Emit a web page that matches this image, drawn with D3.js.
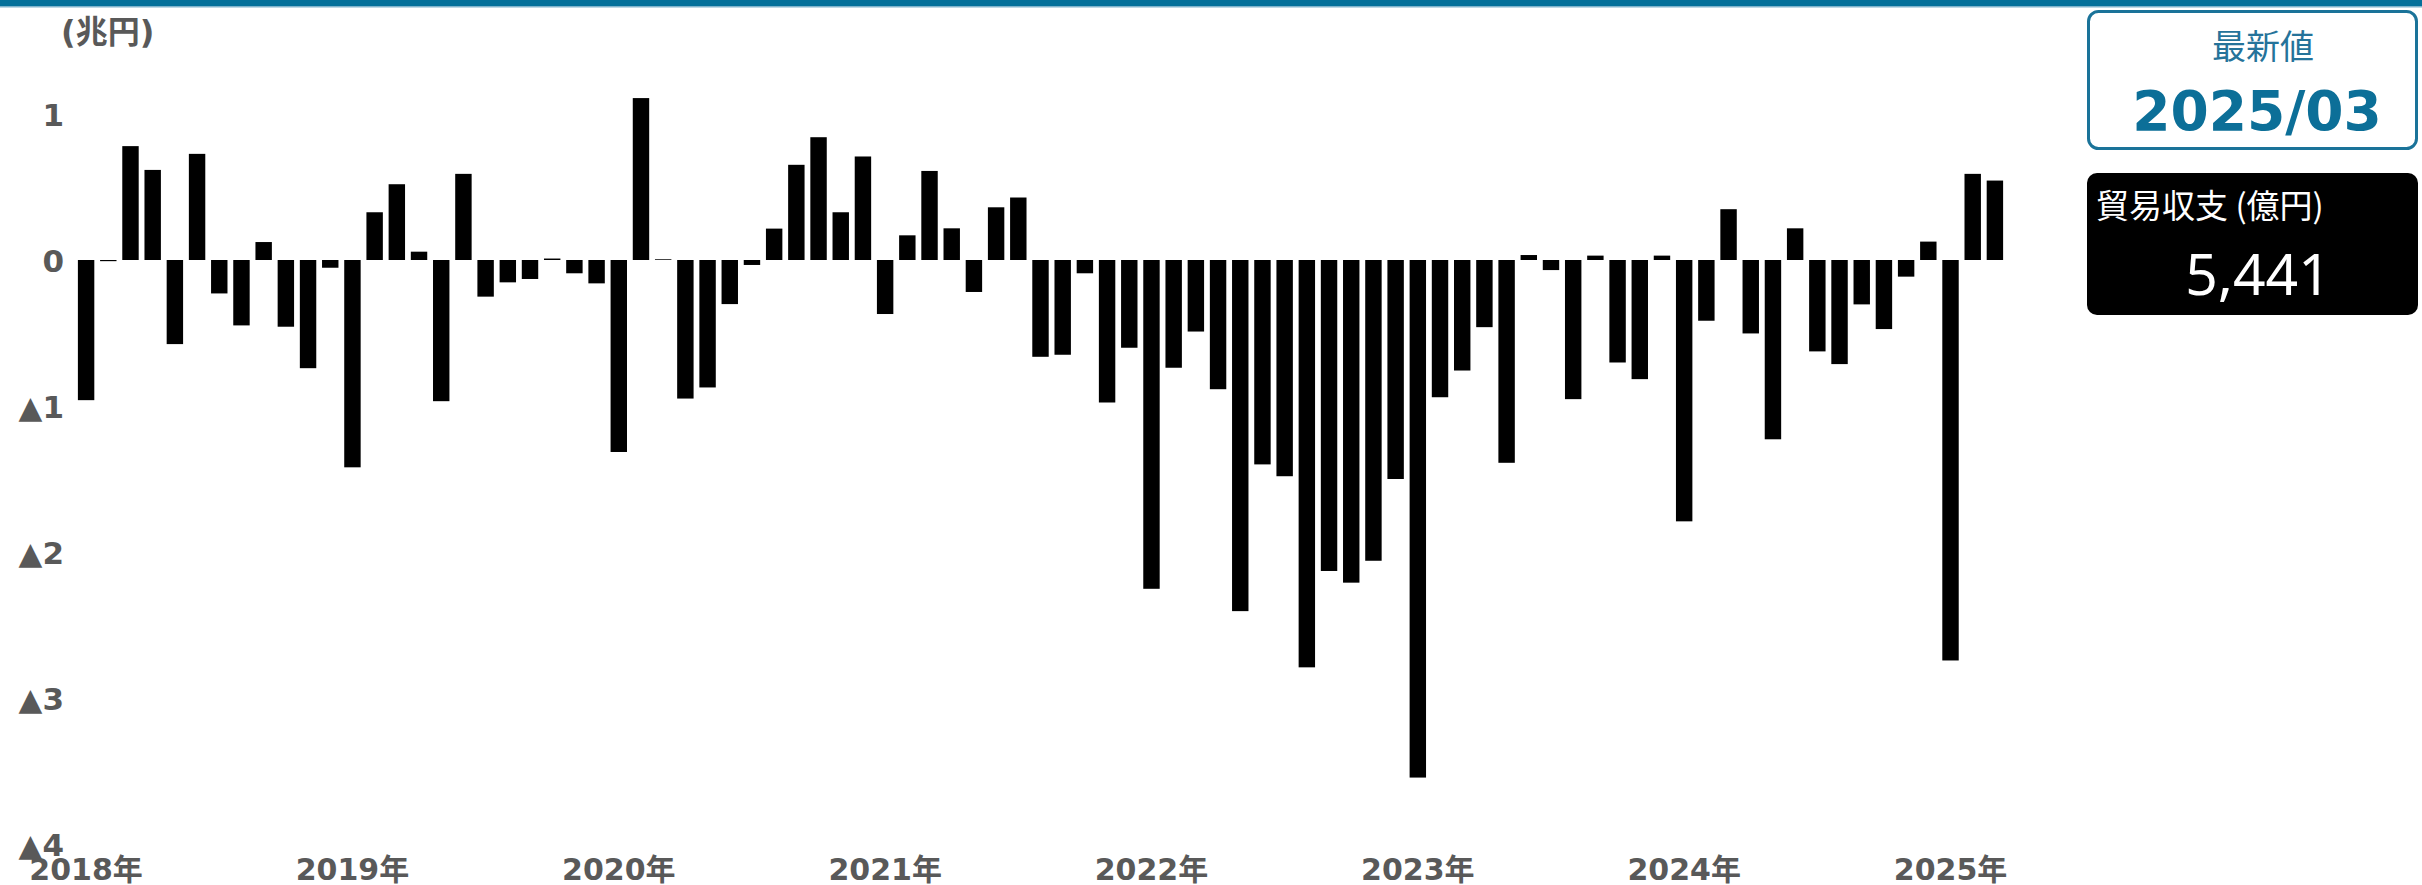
<!DOCTYPE html>
<html>
<head>
<meta charset="utf-8">
<script src="https://cdn.jsdelivr.net/npm/d3@7"></script>
<style>
  html, body { margin: 0; padding: 0; background: #fff; }
  svg { display: block; }
</style>
</head>
<body>
<svg id="chart" width="2422" height="885"></svg>
<script>
// ---- data (trillion yen, monthly trade balance) ----
const years = [2018, 2019, 2020, 2021, 2022, 2023, 2024, 2025];
const yearLabels = ["2018年", "2019年", "2020年", "2021年", "2022年", "2023年", "2024年", "2025年"];
const values2018 = [-0.96, -0.008, 0.78, 0.617, -0.576, 0.727, -0.229, -0.448, 0.123, -0.457, -0.741, -0.053];
const values2019 = [-1.42, 0.327, 0.519, 0.057, -0.967, 0.59, -0.251, -0.153, -0.13, 0.01, -0.091, -0.16];
const values2020 = [-1.315, 1.109, 0.005, -0.949, -0.873, -0.302, -0.034, 0.215, 0.652, 0.841, 0.327, 0.709];
const values2021 = [-0.37, 0.169, 0.61, 0.217, -0.219, 0.361, 0.428, -0.663, -0.649, -0.091, -0.976, -0.601];
const values2022 = [-2.252, -0.738, -0.49, -0.885, -2.405, -1.40, -1.481, -2.79, -2.13, -2.21, -2.06, -1.50];
const values2023 = [-3.545, -0.94, -0.757, -0.46, -1.389, 0.034, -0.069, -0.953, 0.03, -0.702, -0.816, 0.03];
const values2024 = [-1.79, -0.416, 0.348, -0.503, -1.228, 0.217, -0.626, -0.713, -0.304, -0.473, -0.114, 0.126];
const values2025 = [-2.743, 0.59, 0.5441];
const yTicks = [1, 0, -1, -2, -3, -4];
const unitLabel = "(兆円)";
const latestLabel = "最新値";
const latestPeriod = "2025/03";
const latestName = "貿易収支 (億円)";
const latestValue = 5441;

const seriesByYear = [values2018, values2019, values2020, values2021, values2022, values2023, values2024, values2025];
const data = [];
seriesByYear.forEach((arr, yi) => {
  arr.forEach((v, mi) => {
    data.push({ key: years[yi] + "-" + String(mi + 1).padStart(2, "0"), year: years[yi], month: mi + 1, value: v });
  });
});

// ---- drawing ----
const svg = d3.select("#chart");
const W = 2422, H = 885;
const axisColor = "#595959";
const blue = "#0c6f98";

// top band
svg.append("rect").attr("x", 0).attr("y", 0).attr("width", W).attr("height", 6).attr("fill", "#04709a");
svg.append("rect").attr("x", 0).attr("y", 6).attr("width", W).attr("height", 1.5).attr("fill", "#7fb3cc");

const x = d3.scaleBand()
  .domain(data.map(d => d.key))
  .range([75, 2006])
  .paddingInner(0.26)
  .paddingOuter(0.13);

const y = d3.scaleLinear().domain([-4, 1]).range([844, 114]);

// bars
svg.append("g").selectAll("rect")
  .data(data)
  .join("rect")
  .attr("x", d => x(d.key))
  .attr("width", x.bandwidth())
  .attr("y", d => y(Math.max(0, d.value)))
  .attr("height", d => Math.abs(y(d.value) - y(0)))
  .attr("fill", "#000");

// y axis
const yAxis = d3.axisLeft(y)
  .tickValues(yTicks)
  .tickSize(0)
  .tickPadding(0)
  .tickFormat(d => d < 0 ? "▲" + (-d) : String(d));
const gy = svg.append("g").attr("transform", "translate(64,0)").call(yAxis);
gy.select(".domain").remove();
gy.selectAll("text")
  .attr("fill", axisColor)
  .attr("font-family", "'DejaVu Sans', 'Noto Sans CJK JP', sans-serif")
  .attr("font-weight", "bold")
  .attr("font-size", 31)
  .attr("dy", "0.36em");

// unit label
svg.append("text")
  .attr("x", 61).attr("y", 43)
  .attr("fill", axisColor)
  .attr("font-family", "'DejaVu Sans', 'Noto Sans CJK JP', sans-serif")
  .attr("font-weight", "bold")
  .attr("font-size", 32)
  .text(unitLabel);

// x axis: year labels at January bars
const janKeys = years.map(yr => yr + "-01");
const xAxis = d3.axisBottom(x)
  .tickValues(janKeys)
  .tickSize(0)
  .tickPadding(0)
  .tickFormat((d, i) => yearLabels[i]);
const gx = svg.append("g").attr("transform", "translate(0,880)").call(xAxis);
gx.select(".domain").remove();
gx.selectAll("text")
  .attr("fill", axisColor)
  .attr("font-family", "'DejaVu Sans', 'Noto Sans CJK JP', sans-serif")
  .attr("font-weight", "bold")
  .attr("font-size", 30)
  .attr("y", 0)
  .attr("dy", 0);

// latest-value panel
const px = 2087, pw = 331;
svg.append("rect")
  .attr("x", px + 1.5).attr("y", 11.5).attr("width", pw - 3).attr("height", 137)
  .attr("rx", 10).attr("fill", "#fff").attr("stroke", "#1a7399").attr("stroke-width", 3);
svg.append("text")
  .attr("x", 2263).attr("y", 59)
  .attr("text-anchor", "middle")
  .attr("fill", "#25739a")
  .attr("font-family", "'Noto Sans CJK JP', sans-serif")
  .attr("font-size", 34)
  .text(latestLabel);
svg.append("text")
  .attr("x", 2257).attr("y", 130)
  .attr("text-anchor", "middle")
  .attr("fill", blue)
  .attr("font-family", "'DejaVu Sans', sans-serif")
  .attr("font-weight", "bold")
  .attr("font-size", 55)
  .text(latestPeriod);

svg.append("rect")
  .attr("x", px).attr("y", 173).attr("width", pw).attr("height", 142)
  .attr("rx", 10).attr("fill", "#000");
svg.append("text")
  .attr("x", 2096).attr("y", 218)
  .attr("fill", "#fff")
  .attr("font-family", "'Noto Sans CJK JP', sans-serif")
  .attr("font-size", 33)
  .text(latestName);
svg.append("text")
  .attr("x", 2258).attr("y", 295)
  .attr("text-anchor", "middle")
  .attr("fill", "#fff")
  .attr("font-family", "'Noto Sans', sans-serif")
  .attr("font-size", 57)
  .text(d3.format(",")(latestValue));
</script>
</body>
</html>
